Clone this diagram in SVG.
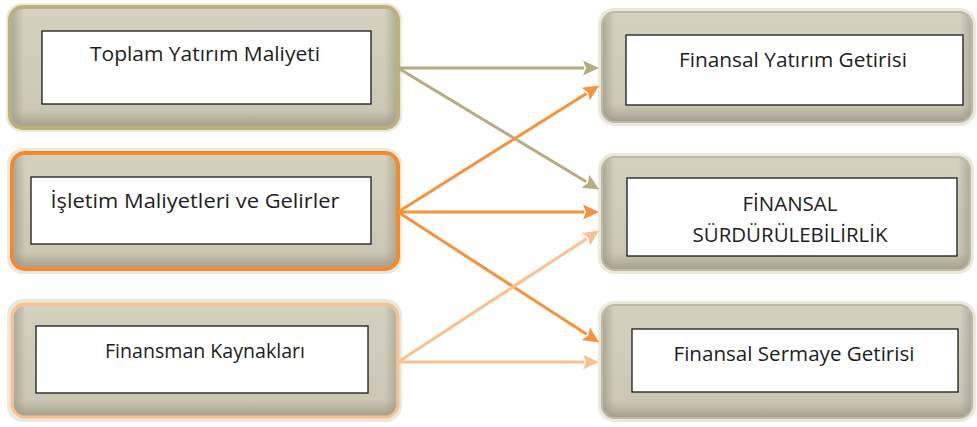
<svg xmlns="http://www.w3.org/2000/svg" width="977" height="427" viewBox="0 0 977 427">
<style>
.glow{fill:#ebe8dc}
.frame{fill:url(#g)}
.shade{fill:url(#h);stroke:none}
.inner{fill:#ffffff;stroke:#1a1a1a;stroke-width:1.3}
.t{font-family:"Open Sans","Liberation Sans",sans-serif;font-size:20px;fill:#1e1e1e;text-anchor:middle}
.c{fill:none;stroke-width:3}
.kh{stroke:#b5ac82}
.or{stroke:#f7923a}
.lo{stroke:#fbc08f}
</style>
<defs>
<linearGradient id="g" x1="0" y1="0" x2="0" y2="1">
<stop offset="0" stop-color="#d5d1c0"/>
<stop offset="0.85" stop-color="#cbc7b4"/>
<stop offset="1" stop-color="#a29e8b"/>
</linearGradient>
<linearGradient id="h" x1="0" y1="0" x2="1" y2="0">
<stop offset="0" stop-color="#9e9a88" stop-opacity="0.7"/>
<stop offset="0.03" stop-color="#9e9a88" stop-opacity="0"/>
<stop offset="0.97" stop-color="#9e9a88" stop-opacity="0"/>
<stop offset="1" stop-color="#9e9a88" stop-opacity="0.6"/>
</linearGradient>
<marker id="mk" markerUnits="userSpaceOnUse" markerWidth="18" markerHeight="16" refX="1" refY="8" orient="auto"><path d="M0,0.5 L16,8 L0,15.5 L3,8 Z" fill="#b5ac82"/></marker>
<marker id="mo" markerUnits="userSpaceOnUse" markerWidth="18" markerHeight="16" refX="1" refY="8" orient="auto"><path d="M0,0.5 L16,8 L0,15.5 L3,8 Z" fill="#f7923a"/></marker>
<marker id="ml" markerUnits="userSpaceOnUse" markerWidth="18" markerHeight="16" refX="1" refY="8" orient="auto"><path d="M0,0.5 L16,8 L0,15.5 L3,8 Z" fill="#fbc08f"/></marker>
</defs>
<rect width="977" height="427" fill="#ffffff"/>

<g id="n1">
<rect class="glow" x="6" y="3" width="396" height="129" rx="16"/>
<rect class="frame" x="10" y="7" width="388" height="121" rx="13" stroke="#bcb07b" stroke-width="4"/>
<rect class="shade" x="12" y="9" width="384" height="117" rx="11"/>
<rect class="inner" x="42" y="31" width="329" height="73"/>
<text class="t" x="205" y="61" textLength="230" lengthAdjust="spacingAndGlyphs">Toplam Yatırım Maliyeti</text>
</g>
<g id="n2">
<rect class="glow" x="7" y="148" width="395" height="126" rx="16"/>
<rect class="frame" x="12" y="153" width="386" height="116" rx="13" stroke="#f58a2c" stroke-width="4"/>
<rect class="shade" x="14" y="155" width="382" height="112" rx="11"/>
<rect class="inner" x="31" y="177" width="340" height="67"/>
<text class="t" x="195" y="208" textLength="289" lengthAdjust="spacingAndGlyphs">İşletim Maliyetleri ve Gelirler</text>
</g>
<g id="n3">
<rect class="glow" x="7" y="299" width="395" height="123" rx="16"/>
<rect class="frame" x="12" y="304" width="386" height="113" rx="13" stroke="#fbc08f" stroke-width="3"/>
<rect class="shade" x="14" y="306" width="382" height="109" rx="11"/>
<rect class="inner" x="36" y="326" width="332" height="67"/>
<text class="t" x="205" y="358" textLength="200" lengthAdjust="spacingAndGlyphs">Finansman Kaynakları</text>
</g>
<g id="n4">
<rect class="glow" x="598" y="8" width="378" height="118" rx="16"/>
<rect class="frame" x="602" y="12" width="370" height="110" rx="13" stroke="#bdb9a6" stroke-width="2"/>
<rect class="shade" x="603" y="13" width="368" height="108" rx="12"/>
<rect class="inner" x="626" y="35" width="337" height="70"/>
<text class="t" x="793" y="67" textLength="228" lengthAdjust="spacingAndGlyphs">Finansal Yatırım Getirisi</text>
</g>
<g id="n5">
<rect class="glow" x="598" y="153" width="376" height="121" rx="16"/>
<rect class="frame" x="602" y="157" width="368" height="113" rx="13" stroke="#bdb9a6" stroke-width="2"/>
<rect class="shade" x="603" y="158" width="366" height="111" rx="12"/>
<rect class="inner" x="627" y="178" width="330" height="78"/>
<text class="t" x="790" y="211" textLength="95" lengthAdjust="spacingAndGlyphs">FİNANSAL</text>
<text class="t" x="790" y="242" textLength="195" lengthAdjust="spacingAndGlyphs">SÜRDÜRÜLEBİLİRLİK</text>
</g>
<g id="n6">
<rect class="glow" x="598" y="301" width="378" height="121" rx="16"/>
<rect class="frame" x="602" y="305" width="370" height="113" rx="13" stroke="#bdb9a6" stroke-width="2"/>
<rect class="shade" x="603" y="306" width="368" height="111" rx="12"/>
<rect class="inner" x="632" y="329" width="326" height="63"/>
<text class="t" x="794" y="361" textLength="241" lengthAdjust="spacingAndGlyphs">Finansal Sermaye Getirisi</text>
</g>

<g id="connectors">
<line class="c kh" x1="398" y1="68" x2="584" y2="68" marker-end="url(#mk)"/>
<line class="c kh" x1="398" y1="68" x2="586.3" y2="181.7" marker-end="url(#mk)"/>
<line class="c or" x1="398" y1="212" x2="586.5" y2="93.5" marker-end="url(#mo)"/>
<line class="c or" x1="398" y1="212" x2="584" y2="212" marker-end="url(#mo)"/>
<line class="c or" x1="398" y1="212" x2="586.6" y2="334.3" marker-end="url(#mo)"/>
<line class="c lo" x1="398" y1="362" x2="586.6" y2="238.8" marker-end="url(#ml)"/>
<line class="c lo" x1="398" y1="362" x2="584" y2="362" marker-end="url(#ml)"/>
</g>
</svg>
